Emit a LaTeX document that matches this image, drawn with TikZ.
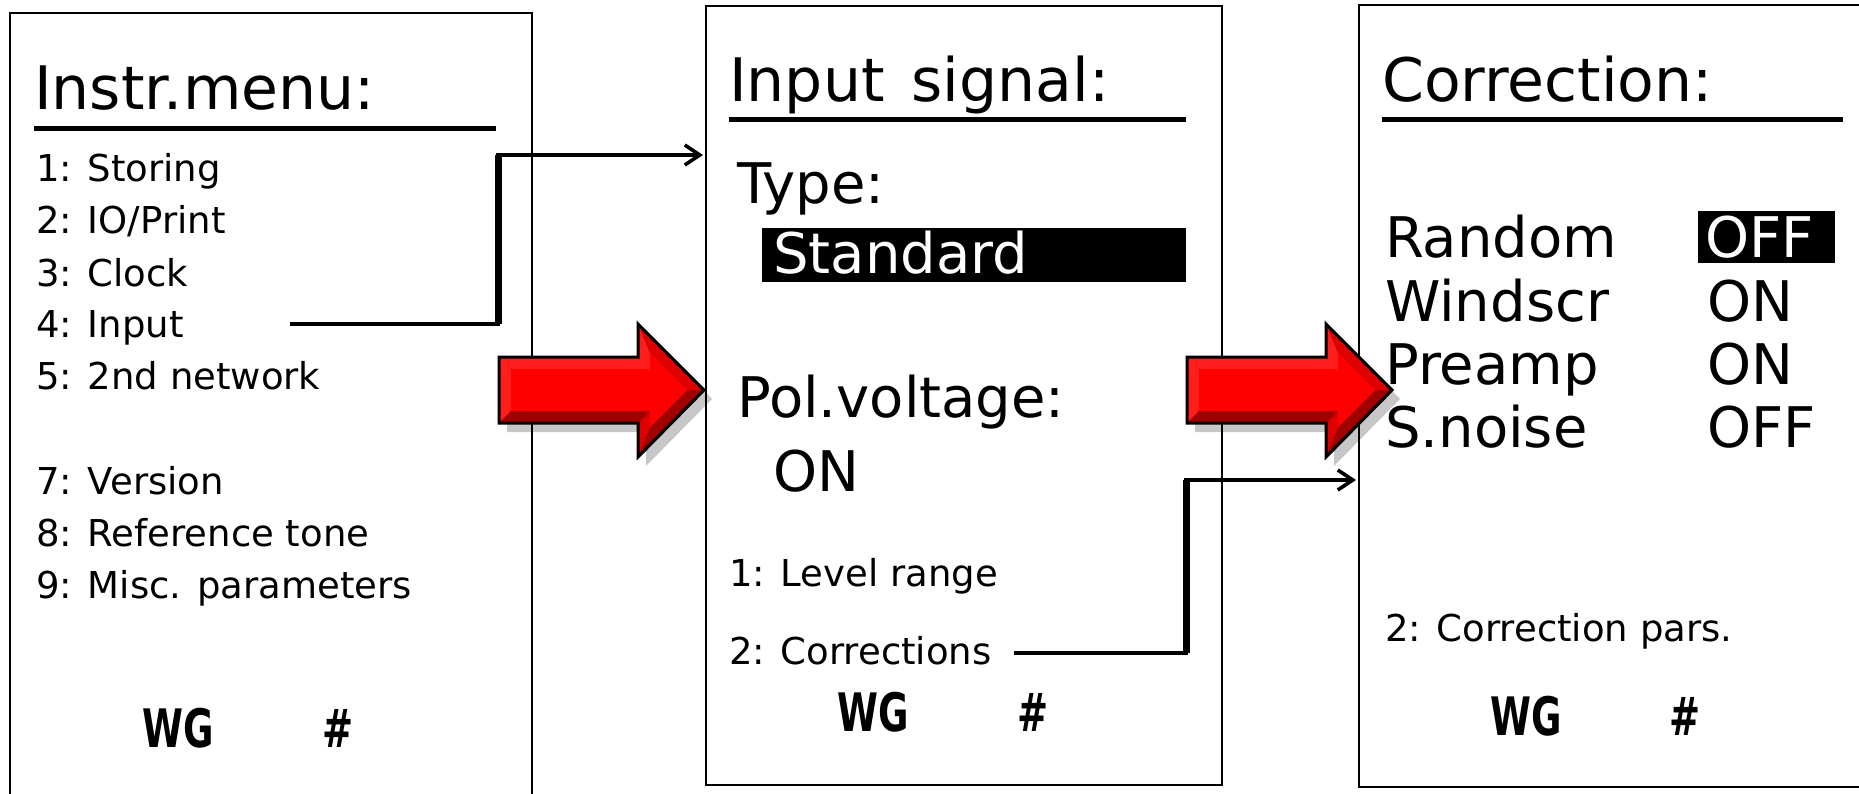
\documentclass[tikz,border=0pt]{standalone}
\usepackage{fontspec}
\usepackage{graphicx}
\setmainfont{DejaVu Sans}
\usetikzlibrary{arrows.meta}
\definecolor{rlight}{HTML}{FF1E1E}
\definecolor{rmain}{HTML}{FF0000}
\definecolor{rmid}{HTML}{DD0000}
\definecolor{rdark}{HTML}{A00000}
\tikzset{
  pics/bevelarrow/.style={code={
    \fill[black,opacity=0.22] (8,9) -- (147,9) -- (147,-24) -- (213,42) -- (147,109) -- (147,75) -- (8,75) -- cycle;
    \fill[rmain] (0,0) -- (139,0) -- (139,-33) -- (205,33) -- (139,100) -- (139,66) -- (0,66) -- cycle;
    \fill[rlight] (0,0) -- (139,0) -- (151,12) -- (12,12) -- cycle;
    \fill[rlight] (0,0) -- (12,12) -- (12,54) -- (0,66) -- cycle;
    \fill[rlight] (139,0) -- (139,-33) -- (151,-4) -- (151,12) -- cycle;
    \fill[rmid] (139,-33) -- (205,33) -- (188,33) -- (151,-4) -- cycle;
    \fill[rdark] (205,33) -- (139,100) -- (151,70) -- (188,33) -- cycle;
    \fill[rmid] (139,100) -- (139,66) -- (151,54) -- (151,70) -- cycle;
    \fill[rdark] (139,66) -- (0,66) -- (12,54) -- (151,54) -- cycle;
    \fill[rmain] (12,12) -- (151,12) -- (151,-4) -- (188,33) -- (151,70) -- (151,54) -- (12,54) -- cycle;
    \draw[black,line width=3pt,line join=miter] (0,0) -- (139,0) -- (139,-33) -- (205,33) -- (139,100) -- (139,66) -- (0,66) -- cycle;
  }}
}
\begin{document}
\begin{tikzpicture}[x=1pt,y=-1pt,
  panel/.style={draw=black,line width=2pt},
  item/.style={anchor=base west,inner sep=0pt,font=\fontsize{37}{44}\selectfont},
  ttl/.style={anchor=base west,inner sep=0pt,font=\fontsize{60}{72}\selectfont},
  big/.style={anchor=base west,inner sep=0pt,font=\fontsize{56}{66}\selectfont},
  inv/.style={big,text=white},
  wg/.style={anchor=base west,inner sep=0pt,font=\bfseries\fontsize{53}{60}\selectfont},
  uline/.style={line width=5pt},
  link/.style={line width=3.6pt,-{Straight Barb[length=15pt,width=20pt,line width=3.6pt]}},
  riser/.style={line width=7pt}]
\useasboundingbox (0,0) rectangle (1859,794);
\fill[white] (0,0) rectangle (1859,794);

% panels
\draw[panel] (10,794) -- (10,13) -- (532,13) -- (532,794);
\draw[panel] (706,6) rectangle (1222,785);
\draw[panel] (1859,5) -- (1359,5) -- (1359,787) -- (1859,787);

% panel 1
\node[ttl] (t1) at (34,110) {Instr.menu:};
\draw[uline] (34,129) -- (496,129);
\node[item] (m1) at (36,182) {1: Storing};
\node[item] (m2) at (36,234) {2: IO/Print};
\node[item] (m3) at (36,286) {3: Clock};
\node[item] (m4) at (36,337) {4: Input};
\node[item] (m5) at (36,389) {5: 2nd network};
\node[item] (m7) at (36,494) {7: Version};
\node[item] (m8) at (36,546) {8: Reference tone};
\node[item] (m9) at (36,598) {9: Misc. parameters};
\node[wg] (wg1) at (142,747) {\scalebox{0.7}[1]{WG}};
\node[wg] (hs1) at (322,747) {\scalebox{0.7}[1]{\#}};

% panel 2
\node[ttl] (t2) at (729,102) {Input\hspace{0.45em}signal:};
\draw[uline] (729,120) -- (1186,120);
\node[big] (ty) at (737,204) {Type:};
\fill[black] (762,228) rectangle (1186,282);
\node[inv] (std) at (773,273) {Standard};
\node[big] (pv) at (737,417) {Pol.voltage:};
\node[big] (pon) at (773,491) {ON};
\node[item] (l1) at (729,586) {1: Level range};
\node[item] (l2) at (729,664) {2: Corrections};
\node[wg] (wg2) at (837,731) {\scalebox{0.7}[1]{WG}};
\node[wg] (hs2) at (1017,731) {\scalebox{0.7}[1]{\#}};

% panel 3
\node[ttl] (t3) at (1382,102) {Correction:};
\draw[uline] (1382,120) -- (1843,120);
\node[big] (r1) at (1385,258) {Random};
\fill[black] (1698,211) rectangle (1835,263);
\node[inv] (v1) at (1705,258) {OFF};
\node[big] (r2) at (1385,321) {Windscr};
\node[big] (v2) at (1707,321) {ON};
\node[big] (r3) at (1385,384) {Preamp};
\node[big] (v3) at (1707,384) {ON};
\node[big] (r4) at (1385,447) {S.noise};
\node[big] (v4) at (1707,447) {OFF};
\node[item] (cp) at (1385,641) {2: Correction pars.};
\node[wg] (wg3) at (1490,735) {\scalebox{0.7}[1]{WG}};
\node[wg] (hs3) at (1669,735) {\scalebox{0.7}[1]{\#}};

% red arrows
\pic at (499,357) {bevelarrow};
\pic at (1187,357) {bevelarrow};

% connectors
\coordinate (a1) at (290,324);
\coordinate (a2) at (498,324);
\coordinate (a3) at (498,155);
\coordinate (a4) at (703,155);
\draw[link] (a1) -- (a2) -- (a3) -- (a4);
\draw[riser] (a2) -- (a3);

\coordinate (b1) at (1014,653);
\coordinate (b2) at (1186,653);
\coordinate (b3) at (1186,480);
\coordinate (b4) at (1356,480);
\draw[link] (b1) -- (b2) -- (b3) -- (b4);
\draw[riser] (b2) -- (b3);
\end{tikzpicture}
\end{document}
